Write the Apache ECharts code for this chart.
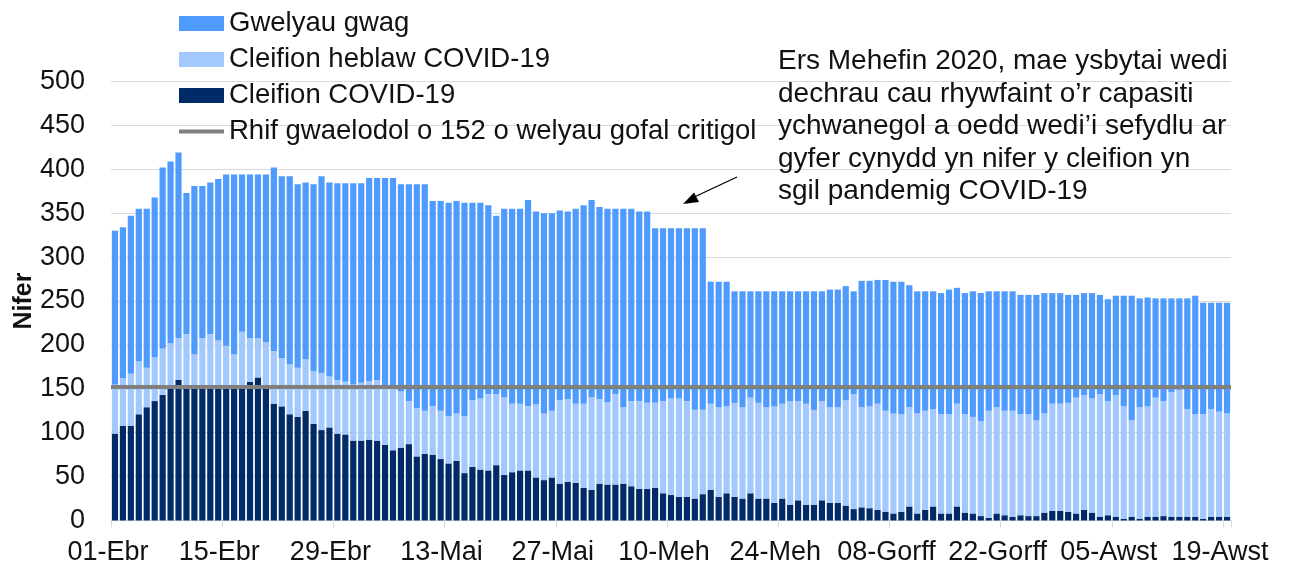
<!DOCTYPE html>
<html>
<head>
<meta charset="utf-8">
<script src="https://cdn.jsdelivr.net/npm/echarts@6/dist/echarts.min.js"></script>
<style>
  html, body { margin: 0; padding: 0; background: #ffffff; }
  #chart { width: 1289px; height: 567px; }
</style>
</head>
<body>
<div id="chart"></div>
<script>
// ---- Data ----
const categories = [
  '01-Ebr','02-Ebr','03-Ebr','04-Ebr','05-Ebr','06-Ebr','07-Ebr','08-Ebr','09-Ebr','10-Ebr',
  '11-Ebr','12-Ebr','13-Ebr','14-Ebr','15-Ebr','16-Ebr','17-Ebr','18-Ebr','19-Ebr','20-Ebr',
  '21-Ebr','22-Ebr','23-Ebr','24-Ebr','25-Ebr','26-Ebr','27-Ebr','28-Ebr','29-Ebr','30-Ebr',
  '01-Mai','02-Mai','03-Mai','04-Mai','05-Mai','06-Mai','07-Mai','08-Mai','09-Mai','10-Mai',
  '11-Mai','12-Mai','13-Mai','14-Mai','15-Mai','16-Mai','17-Mai','18-Mai','19-Mai','20-Mai',
  '21-Mai','22-Mai','23-Mai','24-Mai','25-Mai','26-Mai','27-Mai','28-Mai','29-Mai','30-Mai','31-Mai',
  '01-Meh','02-Meh','03-Meh','04-Meh','05-Meh','06-Meh','07-Meh','08-Meh','09-Meh','10-Meh',
  '11-Meh','12-Meh','13-Meh','14-Meh','15-Meh','16-Meh','17-Meh','18-Meh','19-Meh','20-Meh',
  '21-Meh','22-Meh','23-Meh','24-Meh','25-Meh','26-Meh','27-Meh','28-Meh','29-Meh','30-Meh',
  '01-Gorff','02-Gorff','03-Gorff','04-Gorff','05-Gorff','06-Gorff','07-Gorff','08-Gorff','09-Gorff','10-Gorff',
  '11-Gorff','12-Gorff','13-Gorff','14-Gorff','15-Gorff','16-Gorff','17-Gorff','18-Gorff','19-Gorff','20-Gorff',
  '21-Gorff','22-Gorff','23-Gorff','24-Gorff','25-Gorff','26-Gorff','27-Gorff','28-Gorff','29-Gorff','30-Gorff','31-Gorff',
  '01-Awst','02-Awst','03-Awst','04-Awst','05-Awst','06-Awst','07-Awst','08-Awst','09-Awst','10-Awst',
  '11-Awst','12-Awst','13-Awst','14-Awst','15-Awst','16-Awst','17-Awst','18-Awst','19-Awst'
];

const tickLabels = ['01-Ebr','15-Ebr','29-Ebr','13-Mai','27-Mai','10-Meh','24-Meh','08-Gorff','22-Gorff','05-Awst','19-Awst'];

// Cleifion COVID-19
const covidPatients = [
  99,108,108,121,129,136,143,150,160,151,150,152,153,150,152,151,153,158,163,150,
  133,130,121,118,125,110,103,106,99,98,91,91,92,91,86,80,83,87,73,76,
  75,70,65,68,54,61,58,57,63,52,55,57,57,49,46,49,42,44,43,37,
  35,42,41,41,42,39,36,36,37,31,29,27,27,25,30,35,27,31,27,25,
  31,25,25,20,25,18,23,18,18,23,20,20,17,13,15,14,12,10,8,10,
  16,8,12,16,8,8,16,9,8,5,3,8,6,4,6,5,5,9,11,11,
  10,8,12,9,4,6,4,2,4,2,4,4,5,4,4,4,4,2,4,4,4
];

// Cleifion heblaw COVID-19
const nonCovidPatients = [
  56,54,59,60,45,50,53,52,48,61,39,56,59,55,47,38,62,50,45,53,
  60,55,57,56,59,60,65,58,61,60,64,66,67,69,65,70,64,49,55,49,
  55,55,54,54,65,76,81,87,81,88,78,76,73,83,76,76,95,94,90,96,
  105,96,94,103,87,97,100,98,97,105,110,112,109,101,96,98,102,99,107,104,
  109,109,104,110,108,118,113,115,108,113,109,109,120,131,114,116,121,115,114,111,
  113,114,113,111,113,113,117,112,110,108,122,121,119,121,115,116,109,113,122,122,
  124,132,131,130,140,130,139,128,110,127,126,136,131,142,145,123,117,119,123,120,118
];

// Gwelyau gwag
const emptyBeds = [
  175,172,180,174,181,182,206,207,211,161,192,173,173,184,195,205,179,186,186,191,
  209,207,214,209,201,213,224,221,224,226,229,227,231,230,239,240,236,247,255,258,
  234,239,243,242,243,225,223,215,203,215,222,222,235,220,228,225,216,214,222,226,
  225,219,220,211,226,219,216,218,199,197,194,194,197,207,207,139,143,142,127,132,
  121,127,132,131,128,125,125,128,135,125,134,134,130,117,144,143,141,149,150,151,
  139,139,136,134,138,142,132,138,143,146,136,132,136,136,136,136,143,137,126,126,
  123,117,116,120,113,116,113,126,142,124,124,113,117,107,104,126,135,127,121,124,126
];

// Rhif gwaelodol o 152 o welyau gofal critigol
const criticalCareFloor = 152;

const seriesNames = ['Gwelyau gwag', 'Cleifion heblaw COVID-19', 'Cleifion COVID-19', 'Rhif gwaelodol o 152 o welyau gofal critigol'];

const annotationLines = [
  'Ers Mehefin 2020, mae ysbytai wedi',
  'dechrau cau rhywfaint o\u2019r capasiti',
  'ychwanegol a oedd wedi\u2019i sefydlu ar',
  'gyfer cynydd yn nifer y cleifion yn',
  'sgil pandemig COVID-19'
];

// ---- Chart ----
const FONT = '"Liberation Sans", Arial, "DejaVu Sans", sans-serif';
const TEXT = '#111111';
const chart = echarts.init(document.getElementById('chart'), null, { renderer: 'canvas' });

const showTick = (idx, val) => tickLabels.indexOf(val) !== -1;

chart.setOption({
  animation: false,
  backgroundColor: '#ffffff',
  textStyle: { fontFamily: FONT },
  grid: { left: 111, right: 58, top: 81.5, bottom: 46.5, containLabel: false, outerBoundsMode: 'none' },
  legend: {
    orient: 'vertical',
    left: 177,
    top: 9.5,
    padding: 0,
    itemGap: 8,
    itemWidth: 45,
    itemHeight: 15,
    data: [
      { name: seriesNames[0], icon: 'rect' },
      { name: seriesNames[1], icon: 'rect' },
      { name: seriesNames[2], icon: 'rect' },
      { name: seriesNames[3], itemStyle: { opacity: 0 }, lineStyle: { color: '#808080', width: 4, opacity: 1 } }
    ],
    textStyle: { fontFamily: FONT, fontSize: 27.5, lineHeight: 28, color: TEXT },
    selectedMode: false
  },
  xAxis: {
    type: 'category',
    data: categories,
    boundaryGap: true,
    axisLine: { show: true, lineStyle: { color: '#d9d9d9', width: 1 } },
    axisTick: { show: true, interval: showTick, length: 7, lineStyle: { color: '#d9d9d9', width: 1 } },
    axisLabel: {
      interval: showTick,
      fontFamily: FONT,
      fontSize: 27,
      lineHeight: 27,
      color: TEXT,
      margin: 19,
      padding: [0, 14, 0, 0],
      hideOverlap: false
    },
    splitLine: { show: false }
  },
  yAxis: {
    type: 'value',
    min: 0,
    max: 500,
    interval: 50,
    name: 'Nifer',
    nameLocation: 'middle',
    nameRotate: 90,
    nameGap: 74,
    nameMoveOverlap: false,
    nameTextStyle: { fontFamily: FONT, fontSize: 25, fontWeight: 'bold', color: TEXT },
    axisLine: { show: false },
    axisTick: { show: false },
    axisLabel: { fontFamily: FONT, fontSize: 27, color: TEXT, margin: 26 },
    splitLine: { show: true, lineStyle: { color: '#d9d9d9', width: 1 } }
  },
  series: [
    {
      name: seriesNames[2],
      type: 'bar',
      stack: 'beds',
      data: covidPatients,
      barCategoryGap: '22%',
      itemStyle: { color: '#002b68' },
      z: 2
    },
    {
      name: seriesNames[1],
      type: 'bar',
      stack: 'beds',
      data: nonCovidPatients,
      itemStyle: { color: '#a3c8fd' },
      z: 2
    },
    {
      name: seriesNames[0],
      type: 'bar',
      stack: 'beds',
      data: emptyBeds,
      itemStyle: { color: '#4f9bfd' },
      z: 2
    },
    {
      name: seriesNames[3],
      type: 'line',
      data: [],
      symbol: 'none',
      showSymbol: false,
      color: '#808080',
      lineStyle: { color: '#808080', width: 4 },
      z: 5,
      markLine: {
        silent: true,
        symbol: ['none', 'none'],
        label: { show: false },
        lineStyle: { color: '#808080', width: 4, type: 'solid' },
        data: [{ yAxis: criticalCareFloor }],
        z: 5
      }
    }
  ],
  graphic: [
    {
      type: 'text',
      left: 778,
      top: 45.5,
      style: {
        text: annotationLines.join('\n'),
        font: '28px ' + FONT,
        lineHeight: 32.5,
        fill: TEXT
      },
      z: 10
    },
    {
      type: 'line',
      shape: { x1: 737, y1: 177, x2: 690, y2: 199 },
      style: { stroke: '#000000', lineWidth: 1.3 },
      z: 10
    },
    {
      type: 'polygon',
      shape: { points: [[683, 204], [694, 192.5], [699, 202]] },
      style: { fill: '#000000' },
      z: 10
    }
  ]
});
</script>
</body>
</html>
